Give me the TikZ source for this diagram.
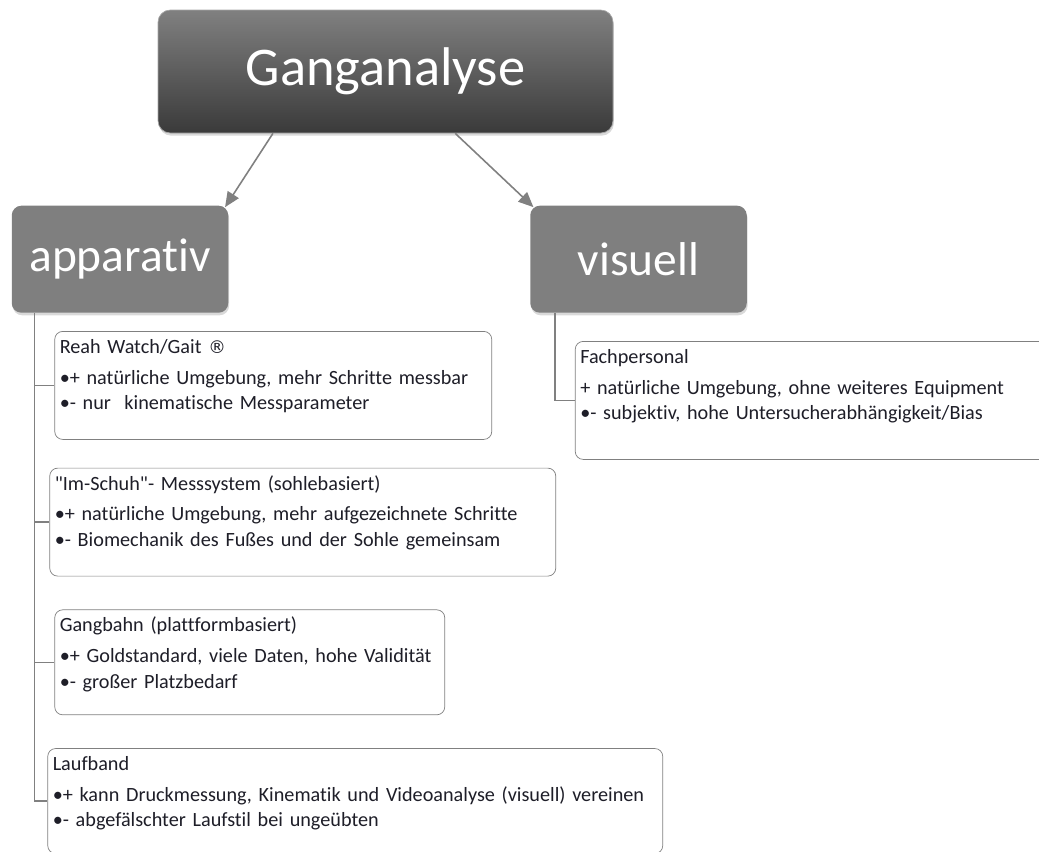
\documentclass[tikz,border=0pt]{standalone}
\usepackage{fontspec}
\setmainfont{Carlito}[Ligatures={TeXOff,NoCommon}, WordSpace=0.8]
\newfontfamily\regfont{DejaVu Sans}
\usepackage{tikz}
\usetikzlibrary{positioning, calc, arrows.meta, shadows}
\definecolor{rootTop}{RGB}{128, 128, 128}
\definecolor{rootBot}{RGB}{58, 58, 58}
\definecolor{levelGray}{RGB}{127, 127, 127}
\definecolor{lineGray}{RGB}{128, 128, 128}
\definecolor{textDark}{RGB}{30, 30, 40}
\newcommand{\itemfont}{\fontsize{11.5}{14.5}\selectfont\hyphenpenalty=10000\relax}

\begin{document}
\begin{tikzpicture}[
    node distance=0.5cm,
    root/.style={rectangle, rounded corners=7pt, top color=rootTop, bottom color=rootBot,
                 draw=rootTop!70!white, minimum width=9.1cm, minimum height=2.46cm,
                 text=white, font=\fontsize{31}{37}\selectfont,
                 drop shadow={shadow xshift=0.5pt, shadow yshift=-1.5pt, opacity=0.3}},
    level/.style={rectangle, rounded corners=5.5pt, fill=levelGray, minimum width=4.33cm,
                  minimum height=2.14cm, text=white, font=\fontsize{27}{32}\selectfont,
                  drop shadow={shadow xshift=0.5pt, shadow yshift=-1.5pt, opacity=0.3}},
    item/.style={rectangle, draw=lineGray, fill=white, rounded corners=4.5pt, align=left,
                 inner xsep=0.1cm, inner ysep=0.1cm, text height=0.34cm, text depth=1.62cm,
                 font=\itemfont, text=textDark},
    link/.style={draw=lineGray, line width=0.9pt, -{Triangle[length=3mm, width=2.6mm]}},
    tie/.style={draw=lineGray, line width=0.8pt},
  ]
    \useasboundingbox (0,0) rectangle (20.78,-17.02);

    \node[root] (ROOT) at (7.71,-1.43) {Ganganalyse};
    \node[level, below=1.44cm of ROOT, xshift=-5.31cm] (APP) {apparativ};
    \node[level, below=1.44cm of ROOT, xshift=5.06cm] (VIS) {visuell};

    \node[item, text width=8.54cm, below right=0.36cm and 0.86cm of APP.south west] (REAH)
      {Reah Watch/Gait {\regfont\fontsize{10}{12}\selectfont ®}\\[3pt]
       •+ natürliche Umgebung, mehr Schritte messbar\\
       •- nur \ kinematische Messparameter};
    \node[item, text width=9.92cm, below right=0.56cm and -0.10cm of REAH.south west] (SCHUH)
      {"Im-Schuh"- Messsystem (sohlebasiert)\\[3pt]
       •+ natürliche Umgebung, mehr aufgezeichnete Schritte\\
       •- Biomechanik des Fußes und der Sohle gemeinsam};
    \node[item, text width=7.60cm, text depth=1.56cm,
          below right=0.66cm and 0.10cm of SCHUH.south west] (GANG)
      {Gangbahn (plattformbasiert)\\[3pt]
       •+ Goldstandard, viele Daten, hohe Validität\\
       •- großer Platzbedarf};
    \node[item, text width=12.10cm, text depth=1.56cm,
          below right=0.66cm and -0.14cm of GANG.south west] (LAUF)
      {Laufband\\[3pt]
       •+ kann Druckmessung, Kinematik und Videoanalyse (visuell) vereinen\\
       •- abgefälschter Laufstil bei ungeübten};
    \node[item, text width=9.6cm, text depth=1.82cm,
          below right=0.56cm and 0.90cm of VIS.south west] (FACH)
      {Fachpersonal\\[3pt]
       + natürliche Umgebung, ohne weiteres Equipment\\
       •- subjektiv, hohe Untersucherabhängigkeit/Bias};

    \draw[link] ($(ROOT.south west)!0.253!(ROOT.south east)$) -- ([xshift=-2pt, yshift=-1pt]APP.north east);
    \draw[link] ($(ROOT.south west)!0.653!(ROOT.south east)$) -- ([xshift=2pt, yshift=-1pt]VIS.north west);

    \coordinate (APPFOOT) at ($(APP.south west)+(0.46,0)$);
    \coordinate (VISFOOT) at ($(VIS.south west)+(0.50,0)$);
    \draw[tie] (APPFOOT) |- (REAH.west);
    \draw[tie] (APPFOOT) |- (SCHUH.west);
    \draw[tie] (APPFOOT) |- (GANG.west);
    \draw[tie] (APPFOOT) |- (LAUF.west);
    \draw[tie] (VISFOOT) |- (FACH.west);
  \end{tikzpicture}
\end{document}
